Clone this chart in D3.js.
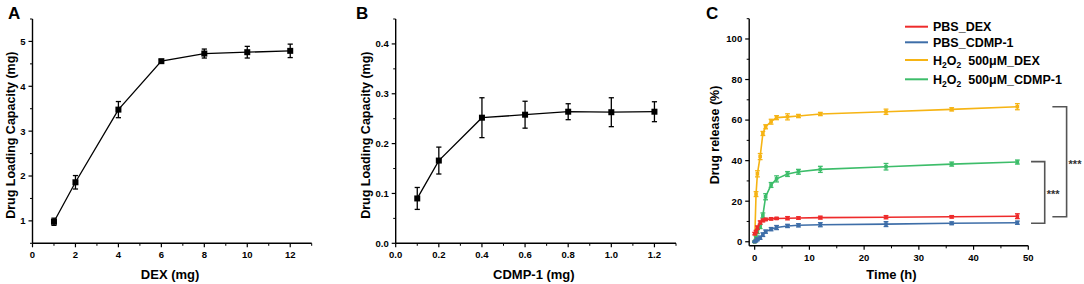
<!DOCTYPE html>
<html><head><meta charset="utf-8">
<script src="https://cdn.jsdelivr.net/npm/d3@7"></script>
<style>
body{margin:0;background:#fff;}
svg{display:block;font-family:"Liberation Sans",Arial,sans-serif;font-weight:bold;}
</style></head>
<body><svg id="c" width="1084" height="284"></svg>
<script>
// Panel A
const aDose = [1, 2, 4, 6, 8, 10, 12];
const aLoad = [0.98, 1.86, 3.48, 4.56, 4.73, 4.76, 4.79];
const aErr  = [0.08, 0.15, 0.18, 0.03, 0.10, 0.13, 0.15];
const aXTicks = [0, 2, 4, 6, 8, 10, 12];
const aYTicks = [1, 2, 3, 4, 5];
// Panel B
const bDose = [0.1, 0.2, 0.4, 0.6, 0.8, 1.0, 1.2];
const bLoad = [0.090, 0.166, 0.252, 0.258, 0.264, 0.263, 0.264];
const bErr  = [0.022, 0.027, 0.040, 0.027, 0.016, 0.029, 0.020];
const bXTicks = [0, 0.2, 0.4, 0.6, 0.8, 1.0, 1.2];
const bYTicks = [0, 0.1, 0.2, 0.3, 0.4];
// Panel C
const cTime = [0, 0.25, 0.5, 1, 1.5, 2, 3, 4, 6, 8, 12, 24, 36, 48];
const cPbsDex   = [4.0, 5.0, 7.0, 9.5, 10.5, 11.0, 11.3, 11.5, 11.6, 11.7, 11.9, 12.1, 12.3, 12.6];
const cPbsCdmp  = [0.0, 0.5, 1.2, 2.0, 3.5, 5.0, 6.2, 7.0, 7.8, 8.1, 8.4, 8.7, 9.1, 9.4];
const cH2o2Dex  = [0.0, 23.5, 33.5, 42.0, 53.4, 56.7, 59.2, 61.2, 61.6, 62.0, 63.0, 64.1, 65.3, 66.6];
const cH2o2Cdmp = [0.0, 2.0, 5.0, 7.5, 13.0, 22.2, 28.0, 31.0, 33.4, 34.5, 35.7, 37.0, 38.3, 39.3];
const cErrPbsDex   = [0.6, 0.6, 0.8, 0.8, 0.7, 0.6, 0.6, 0.5, 0.8, 0.6, 0.7, 0.8, 0.6, 1.2];
const cErrPbsCdmp  = [0.3, 0.5, 0.7, 0.8, 0.9, 0.8, 0.8, 1.0, 0.8, 0.8, 1.0, 1.2, 0.7, 0.8];
const cErrH2o2Dex  = [0.3, 1.2, 1.5, 1.5, 1.0, 1.0, 1.2, 1.0, 1.5, 0.8, 0.8, 1.3, 0.8, 1.5];
const cErrH2o2Cdmp = [0.3, 0.8, 1.0, 1.0, 1.2, 1.5, 1.2, 1.5, 1.2, 1.2, 1.5, 1.6, 1.0, 1.0];
const cSeriesNames = ["PBS_DEX", "PBS_CDMP-1", "H2O2_DEX", "H2O2_CDMP-1"];
const cColors = ["#ee2b2b", "#3e6ea8", "#f6b414", "#3dbd6a"];
const cXTicks = [0, 10, 20, 30, 40, 50];
const cYTicks = [0, 20, 40, 60, 80, 100];
// significance brackets: [xStart, xEnd, yTop, yBottom] in data units
const cBrackets = [[50.5, 53.0, 39.5, 9.1], [54.4, 57.0, 66.6, 12.3]];

const svg = d3.select("#c");
const FONT_TICK = "9.5px";

function drawAxes(g, x, y, xTicks, yTicks, xMinor, yMinor, xFmt, yFmt) {
  const [x0] = x.range(); const [y0] = y.range();
  const xr = x.range(), yr = y.range();
  // axis lines
  g.append("line").attr("x1", xr[0]).attr("x2", xr[1]).attr("y1", y0).attr("y2", y0)
    .attr("stroke", "#000").attr("stroke-width", 1.4);
  g.append("line").attr("x1", x0).attr("x2", x0).attr("y1", yr[0]).attr("y2", yr[1])
    .attr("stroke", "#000").attr("stroke-width", 1.4);
  xTicks.forEach(t => {
    g.append("line").attr("x1", x(t)).attr("x2", x(t)).attr("y1", y0).attr("y2", y0 + 4)
      .attr("stroke", "#000").attr("stroke-width", 1.2);
    g.append("text").attr("x", x(t)).attr("y", y0 + 15).attr("text-anchor", "middle")
      .attr("font-size", FONT_TICK).text(xFmt(t));
  });
  xMinor.forEach(t => {
    g.append("line").attr("x1", x(t)).attr("x2", x(t)).attr("y1", y0).attr("y2", y0 + 2.5)
      .attr("stroke", "#000").attr("stroke-width", 1);
  });
  yTicks.forEach(t => {
    g.append("line").attr("x1", x0).attr("x2", x0 - 4).attr("y1", y(t)).attr("y2", y(t))
      .attr("stroke", "#000").attr("stroke-width", 1.2);
    g.append("text").attr("x", x0 - 7).attr("y", y(t) + 3.4).attr("text-anchor", "end")
      .attr("font-size", FONT_TICK).text(yFmt(t));
  });
  yMinor.forEach(t => {
    g.append("line").attr("x1", x0).attr("x2", x0 - 2.5).attr("y1", y(t)).attr("y2", y(t))
      .attr("stroke", "#000").attr("stroke-width", 1);
  });
}

function errorBars(g, x, y, xs, ys, es, color, cap, sw) {
  xs.forEach((xv, i) => {
    const cx = x(xv), yt = y(ys[i] + es[i]), yb = y(ys[i] - es[i]);
    g.append("line").attr("x1", cx).attr("x2", cx).attr("y1", yt).attr("y2", yb)
      .attr("stroke", color).attr("stroke-width", sw);
    [yt, yb].forEach(yy => g.append("line").attr("x1", cx - cap).attr("x2", cx + cap)
      .attr("y1", yy).attr("y2", yy).attr("stroke", color).attr("stroke-width", sw));
  });
}

function loadingPanel(xs, ys, es, x, y, xTicks, yTicks, xMinor, yMinor, xFmt, yFmt, xLabel, letter, letterX, yLabelX) {
  const g = svg.append("g");
  drawAxes(g, x, y, xTicks, yTicks, xMinor, yMinor, xFmt, yFmt);
  const pts = xs.map((v, i) => [v, ys[i]]);
  g.append("path").attr("d", d3.line().x(d => x(d[0])).y(d => y(d[1]))(pts))
    .attr("fill", "none").attr("stroke", "#000").attr("stroke-width", 1.3);
  errorBars(g, x, y, xs, ys, es, "#000", 2.6, 1.3);
  g.selectAll(null).data(pts).join("rect")
    .attr("x", d => x(d[0]) - 3).attr("y", d => y(d[1]) - 3)
    .attr("width", 6).attr("height", 6).attr("fill", "#000");
  const xr = x.range();
  g.append("text").attr("x", (xr[0] + xr[1]) / 2 - 2).attr("y", 279).attr("text-anchor", "middle")
    .attr("font-size", "13px").text(xLabel);
  g.append("text").attr("transform", `translate(${yLabelX},${(y.range()[0] + y.range()[1]) / 2 + 4}) rotate(-90)`)
    .attr("text-anchor", "middle").attr("font-size", "12.5px").text("Drug Loading Capacity (mg)");
  g.append("text").attr("x", letterX).attr("y", 19).attr("font-size", "17px").text(letter);
}

// Panel A
const xA = d3.scaleLinear().domain([0, 13]).range([32.5, 311.7]);
const yA = d3.scaleLinear().domain([0.5, 5.5]).range([243.3, 19]);
loadingPanel(aDose, aLoad, aErr, xA, yA, aXTicks, aYTicks,
  [1, 3, 5, 7, 9, 11, 13], [0.5, 1.5, 2.5, 3.5, 4.5, 5.5],
  d => d3.format("d")(d), d => d3.format("d")(d), "DEX (mg)", "A", 8, 15);

// Panel B
const xB = d3.scaleLinear().domain([0, 1.3]).range([395.7, 676]);
const yB = d3.scaleLinear().domain([0, 0.45]).range([243.3, 19]);
loadingPanel(bDose, bLoad, bErr, xB, yB, bXTicks, bYTicks,
  [0.1, 0.3, 0.5, 0.7, 0.9, 1.1, 1.3], [0.05, 0.15, 0.25, 0.35, 0.45],
  d => d3.format(".1f")(d), d => d3.format(".1f")(d), "CDMP-1 (mg)", "B", 356, 370);

// Panel C
const xC = d3.scaleLinear().domain([-1, 50]).range([749.2, 1028.3]);
const yC = d3.scaleLinear().domain([-2, 110]).range([245.8, 18.7]);
const gC = svg.append("g");
drawAxes(gC, xC, yC, cXTicks, cYTicks, [5, 15, 25, 35, 45], [10, 30, 50, 70, 90, 110],
  d => d3.format("d")(d), d => d3.format("d")(d));
const cVals = [cPbsDex, cPbsCdmp, cH2o2Dex, cH2o2Cdmp];
const cErrs = [cErrPbsDex, cErrPbsCdmp, cErrH2o2Dex, cErrH2o2Cdmp];
[2, 3, 0, 1].forEach(k => {
  const pts = cTime.map((t, i) => [t, cVals[k][i]]);
  gC.append("path").attr("d", d3.line().x(d => xC(d[0])).y(d => yC(d[1]))(pts))
    .attr("fill", "none").attr("stroke", cColors[k]).attr("stroke-width", 1.6);
  errorBars(gC, xC, yC, cTime, cVals[k], cErrs[k], cColors[k], 2.4, 1.3);
  gC.selectAll(null).data(pts).join("rect")
    .attr("x", d => xC(d[0]) - 1.8).attr("y", d => yC(d[1]) - 1.8)
    .attr("width", 3.6).attr("height", 3.6).attr("fill", cColors[k]);
});
gC.append("text").attr("x", (xC(0) + xC(50)) / 2).attr("y", 279).attr("text-anchor", "middle")
  .attr("font-size", "13px").text("Time (h)");
gC.append("text").attr("transform", `translate(719,${135}) rotate(-90)`)
  .attr("text-anchor", "middle").attr("font-size", "12.5px").text("Drug release (%)");
gC.append("text").attr("x", 706).attr("y", 19).attr("font-size", "17px").text("C");

// legend
const legY = [26.7, 42.3, 60, 79.3];
cSeriesNames.forEach((name, k) => {
  const ly = legY[k];
  gC.append("line").attr("x1", 905).attr("x2", 928).attr("y1", ly).attr("y2", ly)
    .attr("stroke", cColors[k]).attr("stroke-width", 2);
  const t = gC.append("text").attr("x", 933).attr("y", ly + 4.5).attr("font-size", "12.5px");
  if (name.startsWith("H2O2")) {
    const rest = name.split("_").slice(1).join("_");
    t.append("tspan").text("H");
    t.append("tspan").attr("dy", 3).attr("font-size", "8.5px").text("2");
    t.append("tspan").attr("dy", -3).text("O");
    t.append("tspan").attr("dy", 3).attr("font-size", "8.5px").text("2");
    t.append("tspan").attr("dy", -3).text("\u00A0\u00A0500\u03BCM_" + rest);
  } else {
    t.text(name);
  }
});

// significance brackets
cBrackets.forEach((b, i) => {
  const [xa, xb, yt, yb] = b;
  gC.append("path")
    .attr("d", `M${xC(xa)},${yC(yt)}H${xC(xb)}V${yC(yb)}H${xC(xa)}`)
    .attr("fill", "none").attr("stroke", "#555").attr("stroke-width", 1.6);
  gC.append("text").attr("x", xC(xb) + 2).attr("y", (yC(yt) + yC(yb)) / 2 + 6)
    .attr("font-size", "11px").attr("fill", "#333").text("***");
});
</script></body></html>
